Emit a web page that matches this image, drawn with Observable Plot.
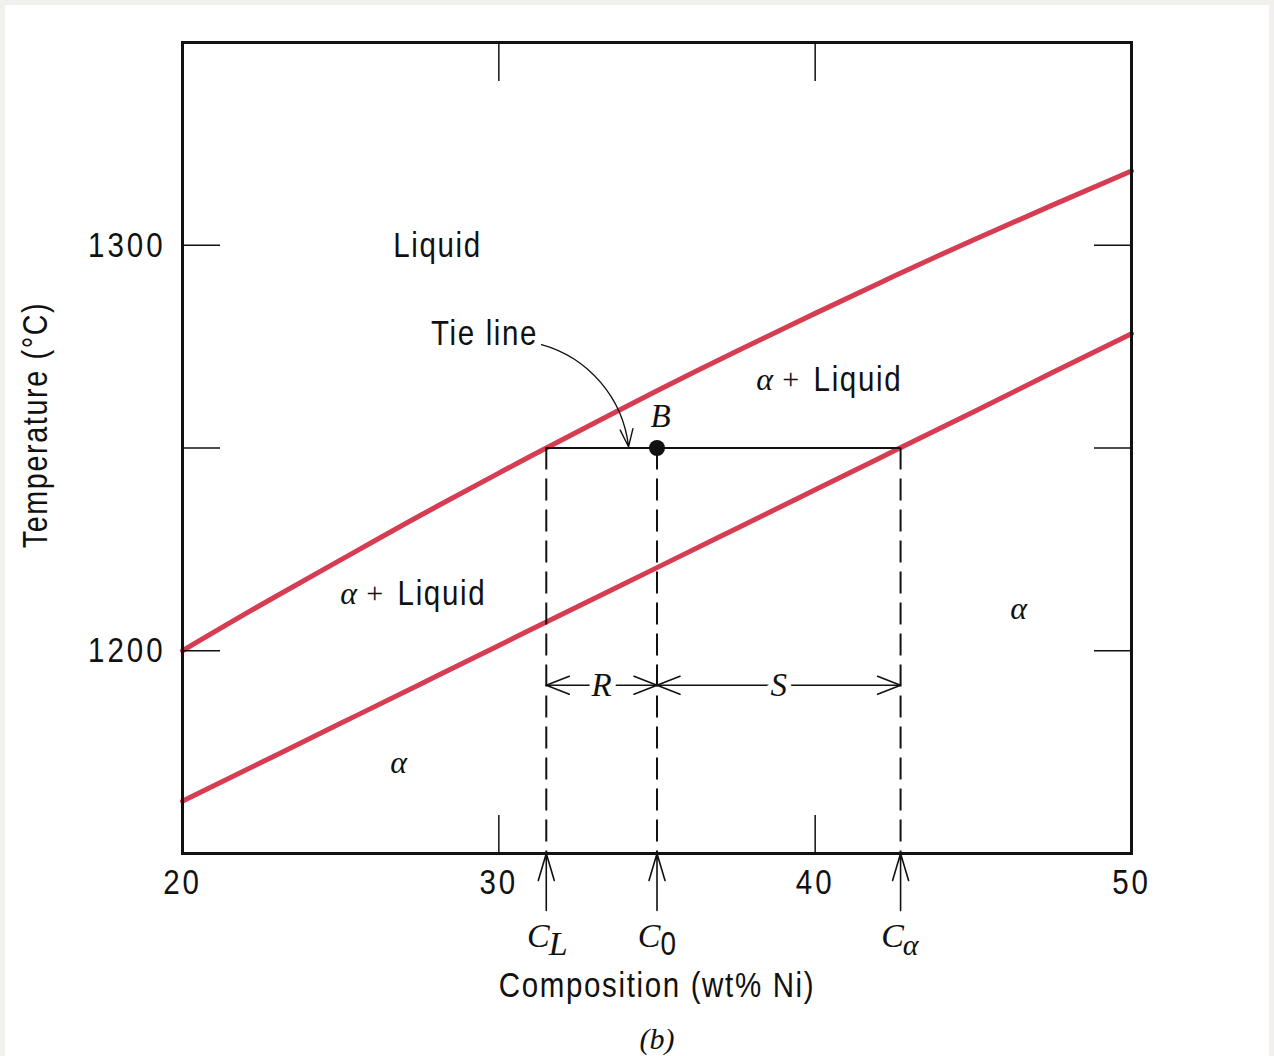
<!DOCTYPE html>
<html><head><meta charset="utf-8">
<script src="https://cdn.jsdelivr.net/npm/d3@7"></script>
<script src="https://cdn.jsdelivr.net/npm/@observablehq/plot@0.6"></script>
<style>
html,body{margin:0;padding:0;overflow:hidden;background:#f2f0ec;width:1274px;height:1056px;}
#page{position:absolute;left:5px;top:5px;width:1264px;height:1051px;background:#fff;}
#chart{position:absolute;left:0;top:0;}
#cap{position:absolute;left:557px;width:200px;top:1022px;text-align:center;font-family:"Liberation Serif","DejaVu Serif",serif;font-style:italic;font-size:30px;color:#111;}
</style></head><body>
<div id="page"></div><div id="chart"></div><div id="cap">(b)</div>
<script>
// ---- data ----
const composition = [20, 22.5, 25, 27.5, 30, 31.5, 35, 37.5, 40, 42.5, 45, 47.5, 50];
const liquidus    = [1200, 1211.4, 1222.4, 1233.3, 1243.8, 1250, 1264.1, 1273.8, 1283.2, 1292.4, 1301.3, 1309.9, 1318.3];
const solidus     = [1162.9, 1172.5, 1182.1, 1191.7, 1201.3, 1207.1, 1220.5, 1230.1, 1239.7, 1249.3, 1258.9, 1268.6, 1278.2];
const xTickValues = [20, 30, 40, 50];
const xInnerTicks = [30, 40];
const yTickValues = [1200, 1250, 1300];
const yTickLabels = [1200, 1300];
const tieTemp = 1250;
const CL = 31.5, C0 = 35, Ca = 42.7;
const dimTemp = 1191.5;
const regionText = ["Liquid", "Tie line"];
const regionX = [28.06, 29.55];
const regionY = [1300, 1278.2];
const alphaLiquidX = [39.95, 26.8];
const alphaLiquidY = [1266.8, 1214.1];
const alphaX = [46.43, 26.83];
const alphaY = [1210.4, 1172.5];
const pointB = {x: 35, y: 1250, label: "B", labelX: 35.11, labelY: 1257.9};
const tieArrow = {x1: 31.35, y1: 1275.5, x2: 34.1, y2: 1250.3};

// ---- styles ----
const red = "#d63c52";
const sans = '"Liberation Sans",Arial,sans-serif';
const serif = '"Liberation Serif","DejaVu Serif",serif';
const ink = "#111";

const curveData = composition.flatMap((c, i) => [
  {c, t: liquidus[i], k: "liquidus"},
  {c, t: solidus[i], k: "solidus"}
]);
const comps = [CL, C0, Ca];

const headShape = {draw(ctx) { ctx.moveTo(-9, 23); ctx.lineTo(0, 0); ctx.lineTo(9, 23); }};
const upArrowShape = {draw(ctx, l) { ctx.moveTo(0, l); ctx.lineTo(0, 0); ctx.moveTo(-8, 27); ctx.lineTo(0, 0); ctx.lineTo(8, 27); }};
const dimHeads = [
  {x: CL, r: -90}, {x: C0, r: 90}, {x: C0, r: -90}, {x: Ca, r: 90}
];
const dimLabels = [{x: (CL + C0) / 2, t: "R"}, {x: (C0 + Ca) / 2, t: "S"}];

const below = {frameAnchor: "bottom", lineAnchor: "middle", fill: ink};

const chart = Plot.plot({
  width: 1274,
  height: 1015,
  marginLeft: 182,
  marginRight: 143,
  marginTop: 42,
  marginBottom: 162,
  style: {background: "transparent", color: ink},
  x: {domain: [20, 50]},
  y: {domain: [1150, 1350]},
  marks: [
    // phase boundaries
    Plot.line(curveData, {x: "c", y: "t", z: "k", stroke: red, strokeWidth: 5, curve: "natural"}),
    // dashed composition lines
    Plot.ruleX(comps, {y1: tieTemp, y2: 1150, stroke: ink, strokeWidth: 2, strokeDasharray: "22,9"}),
    // tie line
    Plot.ruleY([tieTemp], {x1: CL, x2: Ca, stroke: ink, strokeWidth: 2}),
    // R / S dimension line
    Plot.ruleY([dimTemp], {x1: CL, x2: Ca, stroke: ink, strokeWidth: 1.6}),
    Plot.vector(dimHeads, {x: "x", y: () => dimTemp, rotate: "r", length: 20, anchor: "start", shape: headShape, stroke: ink, strokeWidth: 1.6}),
    Plot.text(dimLabels, {x: "x", y: () => dimTemp, text: "t", fontFamily: serif, fontStyle: "italic", fontSize: 33, fill: ink, stroke: "white", strokeWidth: 12}),
    // point B
    Plot.dot([pointB], {x: "x", y: "y", r: 8, fill: ink}),
    Plot.text([pointB], {x: "labelX", y: "labelY", text: "label", fontFamily: serif, fontStyle: "italic", fontSize: 33, fill: ink}),
    // tie line curved arrow
    Plot.arrow([tieArrow], {x1: "x1", y1: "y1", x2: "x2", y2: "y2", bend: 34, stroke: ink, strokeWidth: 1.4, headLength: 20, headAngle: 40}),
    // region labels
    Plot.text(regionText, {x: (d, i) => regionX[i], y: (d, i) => regionY[i], text: d => d, fontFamily: sans, fontSize: 36, fill: ink}),
    Plot.text(alphaLiquidX, {x: d => d, y: (d, i) => alphaLiquidY[i], text: () => "Liquid", textAnchor: "start", fontFamily: sans, fontSize: 36, fill: ink}),
    Plot.text(alphaLiquidX, {x: d => d, y: (d, i) => alphaLiquidY[i], text: () => "α", dx: -49, fontFamily: serif, fontStyle: "italic", fontSize: 32, fill: ink}),
    Plot.text(alphaLiquidX, {x: d => d, y: (d, i) => alphaLiquidY[i], text: () => "+", dx: -23, fontFamily: serif, fontSize: 30, fill: ink}),
    Plot.text(alphaX, {x: d => d, y: (d, i) => alphaY[i], text: () => "α", fontFamily: serif, fontStyle: "italic", fontSize: 32, fill: ink}),
    // axes: inside ticks
    Plot.axisX(xInnerTicks, {anchor: "top", tickSize: 38, dy: 38, strokeWidth: 1.5, fill: "none", label: null}),
    Plot.axisX(xInnerTicks, {anchor: "bottom", tickSize: 38, dy: -38, strokeWidth: 1.5, fill: "none", label: null}),
    Plot.axisY(yTickValues, {anchor: "left", tickSize: 38, dx: 38, strokeWidth: 1.5, fill: "none", label: null}),
    Plot.axisY(yTickValues, {anchor: "right", tickSize: 38, dx: -38, strokeWidth: 1.5, fill: "none", label: null}),
    // tick labels
    Plot.axisX(xTickValues, {anchor: "bottom", tickSize: 0, tickPadding: 15, fontSize: 36, fontFamily: sans, tickFormat: d => String(d), label: null}),
    Plot.axisY(yTickLabels, {anchor: "left", tickSize: 0, tickPadding: 17, fontSize: 36, fontFamily: sans, tickFormat: d => String(d), label: null}),
    // axis titles
    Plot.text(["Temperature (°C)"], {frameAnchor: "left", textAnchor: "middle", lineAnchor: "middle", dx: -147, dy: -23, rotate: -90, fontSize: 35, fontFamily: sans, fill: ink}),
    Plot.text(["Composition (wt% Ni)"], {...below, dy: 132, fontSize: 36, fontFamily: sans}),
    // composition markers below axis
    Plot.vector(comps, {x: d => d, frameAnchor: "bottom", length: 57, anchor: "start", rotate: 0, shape: upArrowShape, stroke: ink, strokeWidth: 1.6}),
    Plot.text(comps, {...below, x: d => d, text: () => "C", dx: -8, dy: 83, fontFamily: serif, fontStyle: "italic", fontSize: 34}),
    Plot.text([CL], {...below, x: d => d, text: () => "L", dx: 12, dy: 91, fontFamily: serif, fontStyle: "italic", fontSize: 34}),
    Plot.text([C0], {...below, x: d => d, text: () => "0", dx: 12, dy: 91, fontFamily: sans, fontSize: 34}),
    Plot.text([Ca], {...below, x: d => d, text: () => "α", dx: 10, dy: 92, fontFamily: serif, fontStyle: "italic", fontSize: 30}),
    Plot.frame({stroke: ink, strokeWidth: 3})
  ]
});
document.getElementById("chart").appendChild(chart);

// condensed look for the sans-serif texts: narrow each glyph run horizontally
d3.select(chart).selectAll("g").each(function () {
  const ff = this.getAttribute("font-family") || "";
  if (!ff.includes("Liberation Sans")) return;
  const isTick = (this.getAttribute("aria-label") || "").includes("tick label");
  d3.select(this).selectAll("text").each(function () {
    const t = this.getAttribute("transform");
    if (t) {
      this.setAttribute("transform", t + " scale(0.82,1)");
    } else {
      const x = +this.getAttribute("x") || 0, y = +this.getAttribute("y") || 0;
      this.removeAttribute("x"); this.removeAttribute("y");
      this.setAttribute("transform", `translate(${x},${y}) scale(0.82,1)`);
    }
    this.style.letterSpacing = isTick ? "3.6px" : "2px";
  });
});
</script>
</body></html>
